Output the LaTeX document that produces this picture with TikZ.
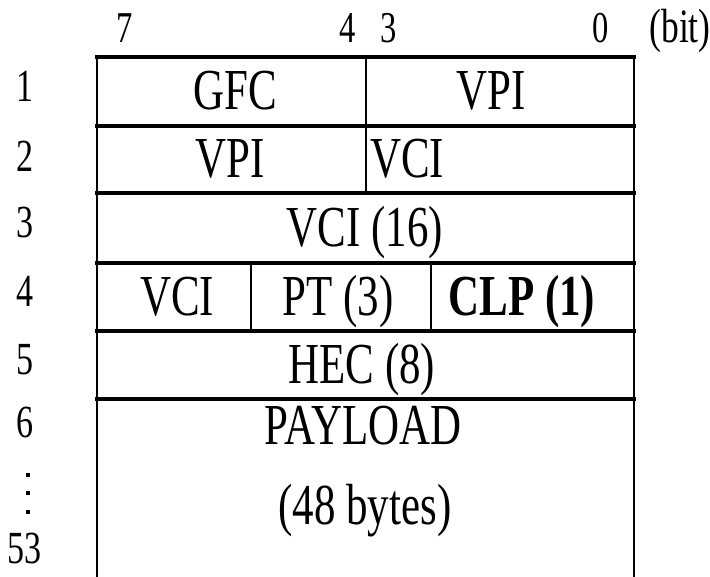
\documentclass[tikz,border=0pt]{standalone}
\usepackage{fontspec}
\newfontfamily\cellfont[FakeStretch=0.74]{Liberation Serif}

\begin{document}
\begin{tikzpicture}[x=1pt,y=-1pt,
hl/.style={line width=3.5pt, line cap=rect},
vl/.style={line width=2.3pt},
fld/.style={anchor=base, inner sep=0pt, font=\cellfont\fontsize{58}{60}\selectfont},
fldb/.style={fld, font=\cellfont\bfseries\fontsize{58}{60}\selectfont},
rn/.style={anchor=base, inner sep=0pt, font=\cellfont\fontsize{46}{50}\selectfont},
bn/.style={anchor=base, inner sep=0pt, font=\cellfont\fontsize{44}{48}\selectfont}
]
\useasboundingbox (0,0) rectangle (710,577);
\node[bn] (b7) at (125,43) {7};
\node[bn] (b4) at (348,43) {4};
\node[bn] (b3) at (389,43) {3};
\node[bn] (b0) at (601,43) {0};
\node[bn, font=\cellfont\fontsize{48}{50}\selectfont] (bit) at (680,43) {(bit)};
\draw[vl] (97,57) -- (97,577);
\draw[vl] (634,57) -- (634,577);
\foreach \y in {57,126,193,263,331,399}
  \draw[hl] (97,\y) -- (634,\y);
\draw[vl] (366,57) -- (366,193);
\draw[vl] (251,263) -- (251,331);
\draw[vl] (431,263) -- (431,331);
\node[rn] (r1) at (25,102) {1};
\node[rn] (r2) at (25,172) {2};
\node[rn] (r3) at (25,238) {3};
\node[rn] (r4) at (25,307) {4};
\node[rn] (r5) at (25,375) {5};
\node[rn] (r6) at (25,438) {6};
\node[rn] (r53) at (25,563) {53};
\foreach \y in {475,493,512}
  \fill (25.5,\y-2) rectangle (29.5,\y+2);
\node[fld] (gfc) at (235,110) {GFC};
\node[fld] (vpiA) at (491,110) {VPI};
\node[fld] (vpiB) at (230,178) {VPI};
\node[fld] (vciA) at (407,178) {VCI};
\node[fld] (vciB) at (365,247) {VCI (16)};
\node[fld] (vciC) at (177,316) {VCI};
\node[fld] (pt) at (338,316) {PT (3)};
\node[fldb] (clp) at (522,316) {CLP (1)};
\node[fld] (hec) at (362,384) {HEC (8)};
\node[fld] (load) at (363,445) {PAYLOAD};
\node[fld] (size) at (365,524) {(48 bytes)};
\end{tikzpicture}
\end{document}
